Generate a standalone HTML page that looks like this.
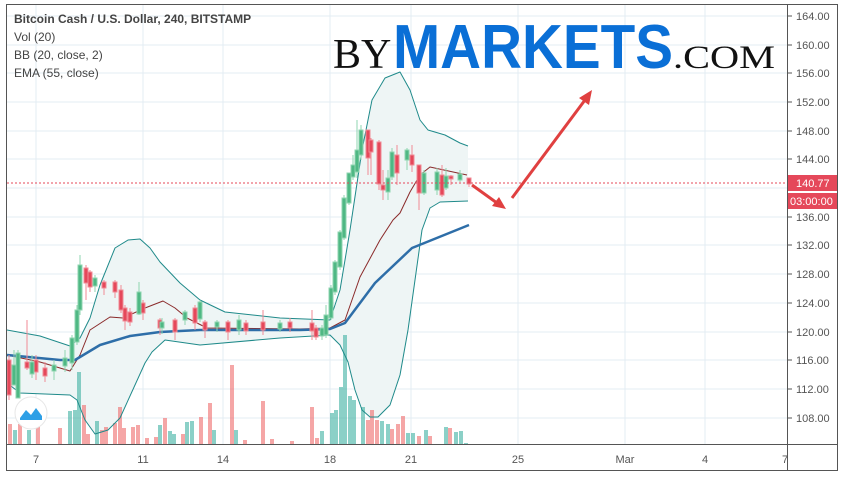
<!DOCTYPE html>
<html><head><meta charset="utf-8"><style>
body{margin:0;background:#fff;width:844px;height:478px;overflow:hidden;font-family:"Liberation Sans",sans-serif}
svg{display:block}
</style></head><body>
<svg width="844" height="478" viewBox="0 0 844 478" xmlns="http://www.w3.org/2000/svg">
<rect width="844" height="478" fill="#fff"/>
<g stroke="#e3ecf3" stroke-width="1">
<line x1="7" y1="16" x2="787" y2="16"/><line x1="7" y1="45" x2="787" y2="45"/><line x1="7" y1="73" x2="787" y2="73"/><line x1="7" y1="102" x2="787" y2="102"/><line x1="7" y1="131" x2="787" y2="131"/><line x1="7" y1="159" x2="787" y2="159"/><line x1="7" y1="188" x2="787" y2="188"/><line x1="7" y1="217" x2="787" y2="217"/><line x1="7" y1="245" x2="787" y2="245"/><line x1="7" y1="274" x2="787" y2="274"/><line x1="7" y1="303" x2="787" y2="303"/><line x1="7" y1="332" x2="787" y2="332"/><line x1="7" y1="360" x2="787" y2="360"/><line x1="7" y1="389" x2="787" y2="389"/><line x1="7" y1="418" x2="787" y2="418"/>
<line x1="36" y1="5" x2="36" y2="444"/><line x1="143" y1="5" x2="143" y2="444"/><line x1="223" y1="5" x2="223" y2="444"/><line x1="330" y1="5" x2="330" y2="444"/><line x1="411" y1="5" x2="411" y2="444"/><line x1="518" y1="5" x2="518" y2="444"/><line x1="625" y1="5" x2="625" y2="444"/><line x1="705" y1="5" x2="705" y2="444"/>
</g>
<path d="M7,330 L40,336 L70,346 L80,338 L90,318 L100,285 L115,248 L128,240 L140,239 L150,248 L160,262 L180,283 L200,300 L225,312 L280,318 L330,320 L340,290 L350,230 L362,150 L372,100 L385,78 L400,72 L410,90 L420,120 L428,130 L445,135 L460,143 L468,146 L468,201 L440,202 L430,208 L422,230 L415,280 L408,330 L400,375 L390,405 L378,417 L370,417 L362,410 L355,390 L348,362 L340,345 L330,335 L300,336 L280,338 L200,345 L165,340 L152,352 L145,363 L135,385 L120,418 L108,430 L95,434 L85,420 L77,400 L70,395 L20,393 L7,383 Z" fill="#eef5f5"/>
<g opacity="0.6">
<rect x="8" y="424" width="4" height="20" fill="#ef6c6c"/><rect x="13" y="430" width="4" height="14" fill="#3fb1a3"/><rect x="18" y="424" width="4" height="20" fill="#ef6c6c"/><rect x="27" y="430" width="4" height="14" fill="#3fb1a3"/><rect x="36" y="425" width="4" height="19" fill="#ef6c6c"/><rect x="58" y="428" width="4" height="16" fill="#ef6c6c"/><rect x="68" y="411" width="4" height="33" fill="#3fb1a3"/><rect x="73" y="410" width="4" height="34" fill="#3fb1a3"/><rect x="77" y="372" width="4" height="72" fill="#3fb1a3"/><rect x="82" y="405" width="4" height="39" fill="#ef6c6c"/><rect x="86" y="434" width="4" height="10" fill="#ef6c6c"/><rect x="95" y="421" width="4" height="23" fill="#3fb1a3"/><rect x="100" y="430" width="4" height="14" fill="#ef6c6c"/><rect x="104" y="427" width="4" height="17" fill="#ef6c6c"/><rect x="113" y="423" width="4" height="21" fill="#ef6c6c"/><rect x="118" y="407" width="4" height="37" fill="#ef6c6c"/><rect x="122" y="428" width="4" height="16" fill="#ef6c6c"/><rect x="131" y="427" width="4" height="17" fill="#ef6c6c"/><rect x="136" y="425" width="4" height="19" fill="#ef6c6c"/><rect x="145" y="438" width="4" height="6" fill="#ef6c6c"/><rect x="154" y="437" width="4" height="7" fill="#ef6c6c"/><rect x="158" y="425" width="4" height="19" fill="#3fb1a3"/><rect x="163" y="418" width="4" height="26" fill="#ef6c6c"/><rect x="168" y="431" width="4" height="13" fill="#3fb1a3"/><rect x="172" y="434" width="4" height="10" fill="#3fb1a3"/><rect x="181" y="434" width="4" height="10" fill="#ef6c6c"/><rect x="185" y="422" width="4" height="22" fill="#3fb1a3"/><rect x="190" y="421" width="4" height="23" fill="#3fb1a3"/><rect x="199" y="417" width="4" height="27" fill="#ef6c6c"/><rect x="208" y="403" width="4" height="41" fill="#ef6c6c"/><rect x="212" y="430" width="4" height="14" fill="#3fb1a3"/><rect x="230" y="365" width="4" height="79" fill="#ef6c6c"/><rect x="234" y="430" width="4" height="14" fill="#3fb1a3"/><rect x="243" y="440" width="4" height="4" fill="#ef6c6c"/><rect x="261" y="401" width="4" height="43" fill="#ef6c6c"/><rect x="270" y="439" width="4" height="5" fill="#ef6c6c"/><rect x="290" y="441" width="4" height="3" fill="#ef6c6c"/><rect x="310" y="407" width="4" height="37" fill="#ef6c6c"/><rect x="315" y="438" width="4" height="6" fill="#ef6c6c"/><rect x="320" y="431" width="4" height="13" fill="#3fb1a3"/><rect x="330" y="413" width="4" height="31" fill="#3fb1a3"/><rect x="334" y="410" width="4" height="34" fill="#3fb1a3"/><rect x="339" y="387" width="4" height="57" fill="#3fb1a3"/><rect x="343" y="335" width="4" height="109" fill="#3fb1a3"/><rect x="348" y="396" width="4" height="48" fill="#3fb1a3"/><rect x="352" y="400" width="4" height="44" fill="#3fb1a3"/><rect x="361" y="407" width="4" height="37" fill="#3fb1a3"/><rect x="366" y="420" width="4" height="24" fill="#ef6c6c"/><rect x="370" y="410" width="4" height="34" fill="#ef6c6c"/><rect x="375" y="420" width="4" height="24" fill="#ef6c6c"/><rect x="380" y="421" width="4" height="23" fill="#3fb1a3"/><rect x="386" y="424" width="4" height="20" fill="#3fb1a3"/><rect x="390" y="429" width="4" height="15" fill="#ef6c6c"/><rect x="396" y="424" width="4" height="20" fill="#ef6c6c"/><rect x="401" y="416" width="4" height="28" fill="#ef6c6c"/><rect x="406" y="433" width="4" height="11" fill="#3fb1a3"/><rect x="411" y="433" width="4" height="11" fill="#3fb1a3"/><rect x="417" y="436" width="4" height="8" fill="#ef6c6c"/><rect x="424" y="430" width="4" height="14" fill="#3fb1a3"/><rect x="428" y="436" width="4" height="8" fill="#ef6c6c"/><rect x="444" y="427" width="4" height="17" fill="#3fb1a3"/><rect x="448" y="428" width="4" height="16" fill="#ef6c6c"/><rect x="454" y="432" width="4" height="12" fill="#3fb1a3"/><rect x="459" y="431" width="4" height="13" fill="#3fb1a3"/><rect x="464" y="443" width="4" height="1" fill="#3fb1a3"/>
</g>
<g fill="none" stroke-linejoin="round">
<polyline stroke="#1f8a8a" stroke-width="1" points="7,330 40,336 70,346 80,338 90,318 100,285 115,248 128,240 140,239 150,248 160,262 180,283 200,300 225,312 280,318 330,320 340,290 350,230 362,150 372,100 385,78 400,72 410,90 420,120 428,130 445,135 460,143 468,146"/>
<polyline stroke="#1f8a8a" stroke-width="1" points="7,383 20,393 70,395 77,400 85,420 95,434 108,430 120,418 135,385 145,363 152,352 165,340 200,345 280,338 330,335 340,345 348,362 355,390 362,410 370,417 378,417 390,405 400,375 408,330 415,280 422,230 430,208 440,202 468,201"/>
<polyline stroke="#8a2a2a" stroke-width="1" points="7,355 40,362 70,371 80,355 90,330 110,317 123,318 145,308 163,301 175,308 187,318 207,328 300,329 330,328 345,320 360,277 380,240 393,220 400,213 410,192 420,175 430,167 467,175"/>
<polyline stroke="#2e6ea8" stroke-width="2.5" points="7,355 60,360 75,360 100,345 130,336 160,332 200,330 300,330 330,329 345,323 375,283 412,248 469,225"/>
</g>
<g stroke-width="1">
<g fill="#e5485a" stroke="#f08a95">
<line x1="9" y1="355" x2="9" y2="400"/><rect x="7" y="360" width="4" height="35"/>
<line x1="27" y1="320" x2="27" y2="370"/><rect x="25" y="362" width="4" height="6"/>
<line x1="36" y1="355" x2="36" y2="380"/><rect x="34" y="360" width="4" height="12"/>
<line x1="45" y1="362" x2="45" y2="382"/><rect x="43" y="368" width="4" height="8"/>
<line x1="86" y1="265" x2="86" y2="300"/><rect x="84" y="268" width="4" height="15"/>
<line x1="90" y1="270" x2="90" y2="292"/><rect x="88" y="272" width="4" height="15"/>
<line x1="104" y1="280" x2="104" y2="295"/><rect x="102" y="282" width="4" height="6"/>
<line x1="115" y1="280" x2="115" y2="298"/><rect x="113" y="282" width="4" height="10"/>
<line x1="121" y1="285" x2="121" y2="313"/><rect x="119" y="290" width="4" height="20"/>
<line x1="125" y1="305" x2="125" y2="330"/><rect x="123" y="308" width="4" height="13"/>
<line x1="130" y1="308" x2="130" y2="326"/><rect x="128" y="312" width="4" height="10"/>
<line x1="143" y1="300" x2="143" y2="320"/><rect x="141" y="303" width="4" height="10"/>
<line x1="160" y1="318" x2="160" y2="335"/><rect x="158" y="320" width="4" height="8"/>
<line x1="175" y1="318" x2="175" y2="340"/><rect x="173" y="320" width="4" height="12"/>
<line x1="195" y1="305" x2="195" y2="330"/><rect x="193" y="308" width="4" height="15"/>
<line x1="205" y1="320" x2="205" y2="338"/><rect x="203" y="322" width="4" height="8"/>
<line x1="228" y1="320" x2="228" y2="340"/><rect x="226" y="322" width="4" height="10"/>
<line x1="246" y1="320" x2="246" y2="335"/><rect x="244" y="323" width="4" height="8"/>
<line x1="263" y1="310" x2="263" y2="335"/><rect x="261" y="322" width="4" height="8"/>
<line x1="290" y1="318" x2="290" y2="332"/><rect x="288" y="322" width="4" height="6"/>
<line x1="312" y1="310" x2="312" y2="340"/><rect x="310" y="323" width="4" height="8"/>
<line x1="316" y1="325" x2="316" y2="340"/><rect x="314" y="328" width="4" height="9"/>
<line x1="368" y1="130" x2="368" y2="175"/><rect x="366" y="130" width="4" height="28"/>
<line x1="371" y1="138" x2="371" y2="175"/><rect x="369" y="140" width="4" height="12"/>
<line x1="379" y1="140" x2="379" y2="190"/><rect x="377" y="142" width="4" height="42"/>
<line x1="383" y1="170" x2="383" y2="200"/><rect x="381" y="185" width="4" height="5"/>
<line x1="397" y1="145" x2="397" y2="185"/><rect x="395" y="155" width="4" height="18"/>
<line x1="412" y1="145" x2="412" y2="172"/><rect x="410" y="155" width="4" height="10"/>
<line x1="419" y1="165" x2="419" y2="210"/><rect x="417" y="165" width="4" height="28"/>
<line x1="442" y1="165" x2="442" y2="197"/><rect x="440" y="175" width="4" height="20"/>
<line x1="451" y1="175" x2="451" y2="185"/><rect x="449" y="176" width="4" height="3"/>
<line x1="469" y1="178" x2="469" y2="187"/><rect x="467" y="178" width="4" height="6"/>
</g>
<g fill="#4fb884" stroke="#8fd5b0">
<line x1="14" y1="350" x2="14" y2="385"/><rect x="12" y="365" width="4" height="20"/>
<line x1="18" y1="350" x2="18" y2="398"/><rect x="16" y="353" width="4" height="45"/>
<line x1="32" y1="355" x2="32" y2="378"/><rect x="30" y="362" width="4" height="12"/>
<line x1="54" y1="360" x2="54" y2="380"/><rect x="52" y="365" width="4" height="6"/>
<line x1="65" y1="350" x2="65" y2="372"/><rect x="63" y="358" width="4" height="8"/>
<line x1="72" y1="335" x2="72" y2="370"/><rect x="70" y="338" width="4" height="25"/>
<line x1="77" y1="305" x2="77" y2="345"/><rect x="75" y="310" width="4" height="32"/>
<line x1="80" y1="255" x2="80" y2="315"/><rect x="78" y="265" width="4" height="45"/>
<line x1="95" y1="275" x2="95" y2="292"/><rect x="93" y="278" width="4" height="8"/>
<line x1="139" y1="282" x2="139" y2="315"/><rect x="137" y="292" width="4" height="22"/>
<line x1="162" y1="318" x2="162" y2="334"/><rect x="160" y="322" width="4" height="6"/>
<line x1="185" y1="310" x2="185" y2="325"/><rect x="183" y="312" width="4" height="8"/>
<line x1="200" y1="300" x2="200" y2="322"/><rect x="198" y="302" width="4" height="17"/>
<line x1="217" y1="320" x2="217" y2="332"/><rect x="215" y="322" width="4" height="5"/>
<line x1="239" y1="315" x2="239" y2="335"/><rect x="237" y="320" width="4" height="10"/>
<line x1="280" y1="320" x2="280" y2="332"/><rect x="278" y="323" width="4" height="6"/>
<line x1="322" y1="325" x2="322" y2="340"/><rect x="320" y="328" width="4" height="8"/>
<line x1="326" y1="305" x2="326" y2="338"/><rect x="324" y="315" width="4" height="20"/>
<line x1="331" y1="285" x2="331" y2="320"/><rect x="329" y="288" width="4" height="30"/>
<line x1="335" y1="260" x2="335" y2="295"/><rect x="333" y="262" width="4" height="30"/>
<line x1="340" y1="230" x2="340" y2="270"/><rect x="338" y="232" width="4" height="35"/>
<line x1="344" y1="195" x2="344" y2="240"/><rect x="342" y="198" width="4" height="40"/>
<line x1="349" y1="175" x2="349" y2="205"/><rect x="347" y="173" width="4" height="30"/>
<line x1="353" y1="155" x2="353" y2="180"/><rect x="351" y="165" width="4" height="12"/>
<line x1="357" y1="120" x2="357" y2="178"/><rect x="355" y="150" width="4" height="22"/>
<line x1="361" y1="125" x2="361" y2="160"/><rect x="359" y="130" width="4" height="25"/>
<line x1="388" y1="170" x2="388" y2="200"/><rect x="386" y="178" width="4" height="14"/>
<line x1="392" y1="148" x2="392" y2="180"/><rect x="390" y="152" width="4" height="25"/>
<line x1="407" y1="148" x2="407" y2="170"/><rect x="405" y="150" width="4" height="10"/>
<line x1="424" y1="170" x2="424" y2="195"/><rect x="422" y="173" width="4" height="20"/>
<line x1="437" y1="168" x2="437" y2="195"/><rect x="435" y="172" width="4" height="18"/>
<line x1="446" y1="168" x2="446" y2="190"/><rect x="444" y="176" width="4" height="12"/>
<line x1="460" y1="170" x2="460" y2="182"/><rect x="458" y="174" width="4" height="6"/>
</g>
</g>
<line x1="7" y1="183" x2="787" y2="183" stroke="#e5485a" stroke-width="1" stroke-dasharray="2,2"/>
<g stroke="#e04040" stroke-width="3" fill="#e04040">
<line x1="472" y1="185" x2="497" y2="203"/>
<polygon points="506,209 492,206 499,197" stroke="none"/>
<line x1="512" y1="198" x2="585" y2="100"/>
<polygon points="592,90 589,105 579,98" stroke="none"/>
</g>
<text x="333" y="68" font-family="Liberation Serif,serif" font-size="42" fill="#111">BY</text>
<text x="393" y="68" font-family="Liberation Sans,sans-serif" font-weight="bold" font-size="62" fill="#0a6fd6" textLength="280" lengthAdjust="spacingAndGlyphs">MARKETS</text>
<text x="673" y="68" font-family="Liberation Serif,serif" font-size="33" fill="#111" textLength="102" lengthAdjust="spacingAndGlyphs">.COM</text>
<text x="14" y="23" font-size="12" font-weight="bold" fill="#444">Bitcoin Cash / U.S. Dollar, 240, BITSTAMP</text>
<text x="14" y="41" font-size="12" fill="#444">Vol (20)</text>
<text x="14" y="59" font-size="12" fill="#444">BB (20, close, 2)</text>
<text x="14" y="77" font-size="12" fill="#444">EMA (55, close)</text>
<circle cx="31" cy="413" r="16" fill="#fff" stroke="#e6e6e6"/>
<path d="M20,418 L26,410 L31,415 L36,408 L42,416 L42,420 L20,420 Z" fill="#2e9fe6"/>
<rect x="6.5" y="4.5" width="831" height="466" fill="none" stroke="#555"/>
<line x1="787.5" y1="4" x2="787.5" y2="471" stroke="#555"/>
<line x1="6" y1="444.5" x2="838" y2="444.5" stroke="#555"/>
<g font-size="11" fill="#555">
<g stroke="#555"><line x1="788" y1="16" x2="792" y2="16"/><line x1="788" y1="45" x2="792" y2="45"/><line x1="788" y1="73" x2="792" y2="73"/><line x1="788" y1="102" x2="792" y2="102"/><line x1="788" y1="131" x2="792" y2="131"/><line x1="788" y1="159" x2="792" y2="159"/><line x1="788" y1="217" x2="792" y2="217"/><line x1="788" y1="245" x2="792" y2="245"/><line x1="788" y1="274" x2="792" y2="274"/><line x1="788" y1="303" x2="792" y2="303"/><line x1="788" y1="332" x2="792" y2="332"/><line x1="788" y1="360" x2="792" y2="360"/><line x1="788" y1="389" x2="792" y2="389"/><line x1="788" y1="418" x2="792" y2="418"/></g>
<text x="796" y="20">164.00</text><text x="796" y="49">160.00</text><text x="796" y="77">156.00</text><text x="796" y="106">152.00</text><text x="796" y="135">148.00</text><text x="796" y="163">144.00</text><text x="796" y="221">136.00</text><text x="796" y="249">132.00</text><text x="796" y="278">128.00</text><text x="796" y="307">124.00</text><text x="796" y="336">120.00</text><text x="796" y="364">116.00</text><text x="796" y="393">112.00</text><text x="796" y="422">108.00</text>
</g>
<rect x="788" y="175" width="49" height="16" fill="#e5485a"/>
<text x="796" y="187" font-size="11" fill="#fff">140.77</text>
<rect x="788" y="193" width="49" height="16" fill="#e5485a"/>
<text x="790" y="205" font-size="11" fill="#fff">03:00:00</text>
<g font-size="11" fill="#555" text-anchor="middle">
<text x="36" y="463">7</text><text x="143" y="463">11</text><text x="223" y="463">14</text><text x="330" y="463">18</text><text x="411" y="463">21</text><text x="518" y="463">25</text><text x="625" y="463">Mar</text><text x="705" y="463">4</text><text x="785" y="463">7</text>
</g>
</svg>
</body></html>
